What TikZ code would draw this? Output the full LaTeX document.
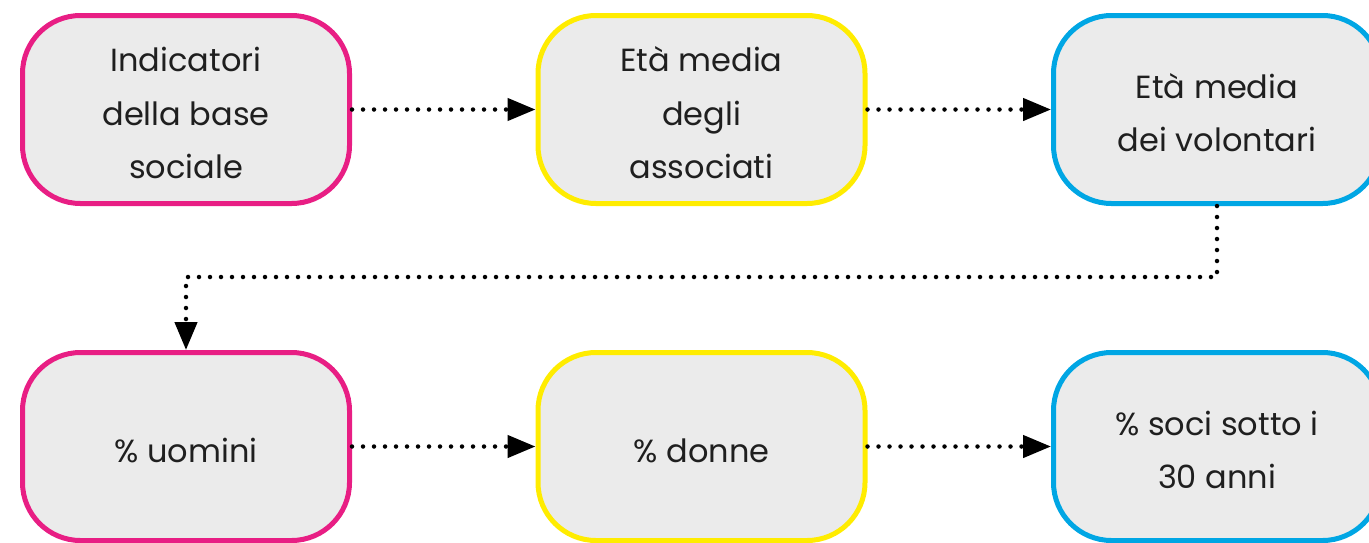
\documentclass[tikz,border=0pt]{standalone}
\usepackage{fontspec}
\setmainfont{Poppins}
\usetikzlibrary{arrows.meta}
\definecolor{cpink}{RGB}{232,30,132}
\definecolor{cyel}{RGB}{255,236,0}
\definecolor{cblue}{RGB}{0,166,228}
\definecolor{cfill}{RGB}{235,235,235}
\newcommand{\lowtext}[1]{\raisebox{-5pt}[\height][\depth]{\begin{tabular}{@{}c@{}}#1\end{tabular}}}
\tikzset{
  box/.style={rectangle, rounded corners=58pt, draw, line width=5pt, fill=cfill,
    minimum width=327pt, minimum height=188pt, inner sep=0pt, align=center,
    font=\fontsize{32}{53.5}\selectfont, text=black!88},
  conn/.style={line width=4.5pt, line cap=round, dash pattern=on 0pt off 11pt,
    -{Triangle[length=28pt,width=22pt]}},
}
\begin{document}
\begin{tikzpicture}[x=1pt,y=-1pt]
\useasboundingbox (0,0) rectangle (1369,542);
\node[box, draw=cpink] (b1) at (186,109.5) {\lowtext{Indicatori\\della base\\sociale}};
\node[box, draw=cyel] (b2) at (701.5,109.5) {\lowtext{Età media\\degli\\associati}};
\node[box, draw=cblue] (b3) at (1217,109.5) {\lowtext{Età media\\dei volontari}};
\node[box, draw=cpink] (b4) at (186,446.5) {\lowtext{\% uomini}};
\node[box, draw=cyel] (b5) at (701.5,446.5) {\lowtext{\% donne}};
\node[box, draw=cblue] (b6) at (1217,446.5) {\lowtext{\% soci sotto i\\30 anni}};
\coordinate (c1) at (1217,277);
\draw[conn] (b1.east) -- (b2.west);
\draw[conn] (b2.east) -- (b3.west);
\draw[conn] (b3.south) -- (c1) -| (b4.north);
\draw[conn] (b4.east) -- (b5.west);
\draw[conn] (b5.east) -- (b6.west);
\end{tikzpicture}
\end{document}
